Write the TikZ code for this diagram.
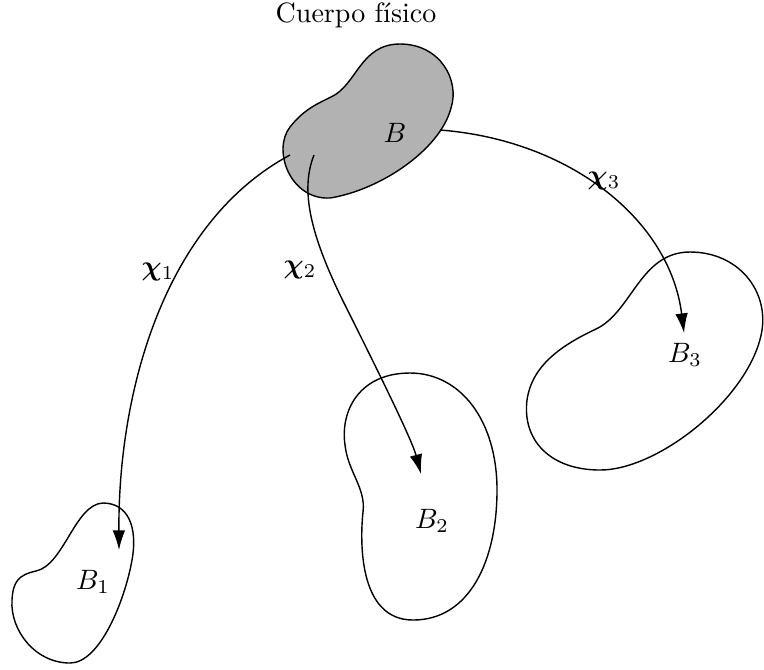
\documentclass[tikz,border=0pt]{standalone}
\usepackage{amsmath,bm}
\usetikzlibrary{arrows.meta}
\begin{document}
\begin{tikzpicture}[x=0.357pt,y=-0.357pt,
  blob/.style={draw=black,line width=0.5pt},
  mapping/.style={draw=black,line width=0.5pt,-{Latex[length=7pt,width=4.5pt]}},
  lbl/.style={inner sep=0pt,anchor=center}]
\useasboundingbox (0,0) rectangle (764,669);
% physical body
\draw[blob,fill=black!30] (331,97) .. controls (357,85) and (360,44) .. (400,44)
  .. controls (440,44) and (460,80) .. (451,108)
  .. controls (440,150) and (380,190) .. (330,198)
  .. controls (290,200) and (272,150) .. (290,127)
  .. controls (302,112) and (312,106) .. cycle;
% B1
\draw[blob] (36,571) .. controls (64,565) and (75,504) .. (103,503)
  .. controls (128,503) and (138,527) .. (132,560)
  .. controls (125,600) and (100,663) .. (70,663)
  .. controls (35,663) and (10,630) .. (12,600)
  .. controls (13,582) and (18,575) .. cycle;
% B2
\draw[blob] (363,512) .. controls (360,540) and (358,620) .. (413,620)
  .. controls (470,620) and (497,560) .. (497,490)
  .. controls (497,420) and (460,373) .. (410,373)
  .. controls (360,373) and (340,410) .. (345,445)
  .. controls (348,472) and (366,488) .. cycle;
% B3
\draw[blob] (596,329) .. controls (632,312) and (640,252) .. (690,252)
  .. controls (738,252) and (768,290) .. (762,330)
  .. controls (752,395) and (660,470) .. (600,470)
  .. controls (550,470) and (522,440) .. (527,400)
  .. controls (532,365) and (562,345) .. cycle;
% labels
\node[lbl] (title) at (356,15) {Cuerpo físico};
\node[lbl] (B) at (395,133) {$B$};
\node[lbl] (B1) at (93,582) {$B_1$};
\node[lbl] (B2) at (432,521) {$B_2$};
\node[lbl] (B3) at (685,355) {$B_3$};
\node[lbl] (x1) at (158,272) {$\bm{\chi}_{\mathrm{1}}$};
\node[lbl] (x2) at (300,270) {$\bm{\chi}_{\mathrm{2}}$};
\node[lbl] (x3) at (604,181) {$\bm{\chi}_{\mathrm{3}}$};
% connector endpoints
\coordinate (s1) at (290,155);
\coordinate (e1) at (119,550);
\coordinate (s2) at (314,155);
\coordinate (m2) at (345,305);
\coordinate (e2) at (421,474);
\coordinate (s3) at (440,130);
\coordinate (e3) at (684,333);
\draw[mapping] (s1) .. controls (165,222) and (118,390) .. (e1);
\draw[mapping] (s2) .. controls (300,190) and (310,235) .. (m2) .. controls (380,375) and (412,440) .. (e2);
\draw[mapping] (s3) .. controls (570,140) and (670,220) .. (e3);
\end{tikzpicture}
\end{document}
